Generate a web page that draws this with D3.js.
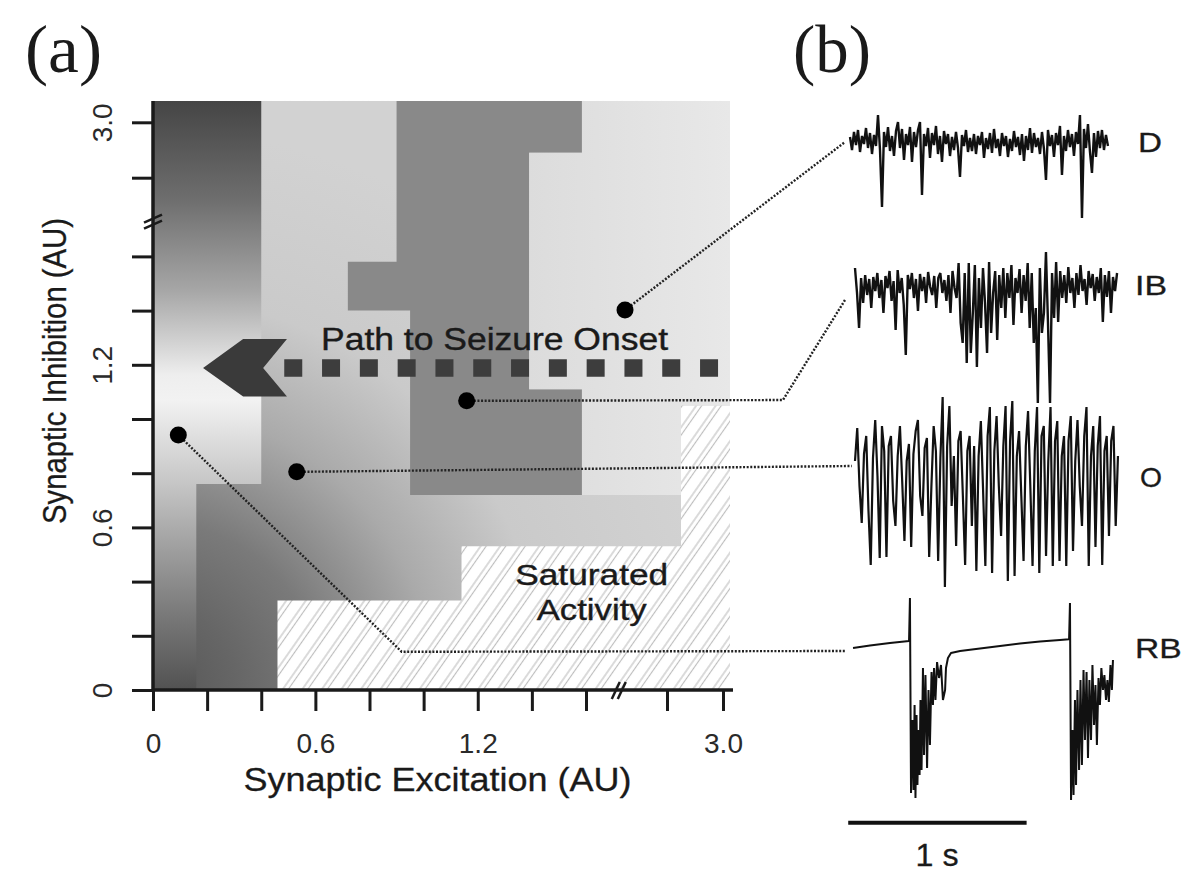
<!DOCTYPE html>
<html><head><meta charset="utf-8">
<script src="https://cdn.jsdelivr.net/npm/d3@7"></script>
<style>body{margin:0;background:#fff}svg{display:block}</style>
</head><body>
<svg id="chart" width="1200" height="884"></svg>
<script>
// ================= DATA =================
// Panel (a): parameter space (Synaptic Excitation x Synaptic Inhibition, AU)
const xTickValues = [0,0.2,0.4,0.6,0.8,1.0,1.2,1.4,1.6,2.8,3.0];
const xTickLabels = ["0","","","0.6","","","1.2","","","","3.0"];
const yTickValues = [0,0.2,0.4,0.6,0.8,1.0,1.2,1.4,1.6,2.8,3.0];
const yTickLabels = ["0","","","0.6","","","1.2","","","","3.0"];
const axisBreak = 2.13;
const xMax = 3.025, yMax = 3.077;

// region outlines in data units
const activeRegion = [[0,3.077],[3.025,3.077],[3.025,1.05],[2.85,1.05],[2.85,0.53],[1.14,0.53],[1.14,0.33],[0.46,0.33],[0.46,0],[0,0]];
const rbRegion = [[0,3.077],[0.40,3.077],[0.40,0.76],[0.16,0.76],[0.16,0],[0,0]];
const ibRegion = [[0.90,3.077],[1.585,3.077],[1.585,2.89],[1.39,2.89],[1.39,1.11],[1.585,1.11],[1.585,0.72],[0.95,0.72],[0.95,1.40],[0.72,1.40],[0.72,1.58],[0.90,1.58]];
const dRegion = [[1.585,3.077],[3.025,3.077],[3.025,1.05],[2.85,1.05],[2.85,0.72],[1.585,0.72],[1.585,1.11],[1.39,1.11],[1.39,2.89],[1.585,2.89]];

// path to seizure onset
const arrowHead = [[0.185,1.188],[0.333,1.295],[0.495,1.295],[0.407,1.188],[0.495,1.083],[0.333,1.083]];
const pathLine = [[0.485,1.188],[2.99,1.188]];

// sample points (dots) and connector knees
const traceNames = ["D","IB","O","RB"];
const dotX = [2.178, 1.159, 0.531, 0.0935];
const dotY = [1.402, 1.067, 0.805, 0.941];
const kneeX = [null, 3.214, null, 0.919];
const kneeY = [null, 1.07, null, 0.141];
const connectorEndTime = [-0.028,-0.028,0.01,-0.028];
const connectorEndValue = [0,-17,0,-11];

// Panel (b): traces (time in s, value in arbitrary units)
const traceStart = [0, 0.028, 0.028];
const traceEnd = [1.446, 1.497, 1.502];
const traceD = [5,-8,10,-3,12,-10,6,-2,14,-6, 9,-12,7,-4,27,-8,-65,10,-5,15, -9,6,-14,11,20,-6,13,-18,8,-3,
 15,-20,10,-5,12,20,-53,8,-4,14, -16,9,-3,16,-12,6,-20,11,-2,8, -14,5,-8,10,-6,-35,7,-4,12,-10,
 4,-9,8,-12,6,-3,10,-16,4,-7, 9,-11,13,-6,3,-14,9,-4,6,-15, 3,-9,11,-5,5,-13,8,-19,6,-8,
 14,-11,9,-5,4,-12,10,-7,-38,12, -4,7,-15,9,-3,16,-33,6,-9,12, -5,8,-14,10,-2,27,-76,13,-6,18,
 -10,-31,9,-15,11,-6,12,-8,7,-4];
const traceIB = [15,-10,-45,5,-20,8,-12,4,-25,6, -8,10,-15,3,-30,7,-5,12,-18,2, -47,13,-10,5,-22,-72,8,-6,10,-15,
 4,-28,9,-8,6,-20,11,-4,-12,7, -25,5,10,-10,3,-18,8,-30,12,-5, -15,20,-40,-60,10,-80,20,-70,-30,18,
 -84,5,-45,15,-20,-70,21,-50,-10,12, -57,8,-25,15,-35,10,-15,18,-42,5, -10,14,-30,8,-18,20,-45,10,-60,-25,
 -120,15,-50,-30,31,-40,-120,10,-35,21, -39,12,-15,8,-20,16,-10,5,-25,10, -12,18,-8,4,-22,12,-5,9,-18,6,
 -10,15,-39,8,-14,12,-30,6,-8,10];
const traceO = [5,38,-20,-57, 12,30,-45,-99, 8,46,-10,-92, 40,15,-91,20, 30,-35,-60,10, 40,-15,-75,5,
 22,-81,12,35, 46,-30,-50,18, 28,-91,-20,40, 15,-95,8,69, -121,20,60,-40, 10,-80,25,35,
 -30,-99,15,30, -60,20,-105,10, 45,-25,-100,30, 59,-107,15,50, -20,-70,20,60, -115,25,65,-110,
 10,35,-30,-95, 20,55,-20,-100, 15,59,-107,30, 40,-90,5,59, -100,25,45,-95, 10,30,-100,25,
 50,-85,5,46, -20,-60,30,59, -100,10,40,-81, 20,50,-99,15, 30,-70,25,40, -60,10];
const rbTime = [0.017,0.112,0.224,0.331,0.336,0.342,0.350,0.356,0.362,0.367,0.373,0.378,0.384,0.390,0.395,0.401,0.409,0.415,0.423,0.432,0.440,0.448,0.457,0.465,0.471,0.479,0.488,0.499,0.510,0.521,0.533,0.538,0.549,0.566,0.617,0.729,0.841,0.953,1.065,1.177,1.228,1.233,1.239,1.247,1.253,1.261,1.267,1.275,1.284,1.292,1.300,1.309,1.317,1.326,1.334,1.342,1.351,1.359,1.368,1.376,1.384,1.393,1.401,1.409,1.418,1.426,1.435,1.443,1.451,1.460,1.468,1.474];
const rbValue = [-8,-5.5,-3,-1,42,-153,-80,-150,-65,-158,-75,-145,-90,-135,-60,-130,-28,-115,-35,-128,-50,-105,-32,-65,-28,-60,-22,-38,-25,-60,-50,-28,-18,-13,-11,-8.5,-6,-3.5,-1.5,0,0.7,37,-160,-90,-155,-60,-145,-50,-130,-40,-125,-30,-100,-32,-118,-40,-100,-25,-85,-45,-105,-38,-65,-28,-50,-35,-60,-40,-62,-25,-50,-20];
const scaleBarStart = -0.01, scaleBarLength = 1;

// ================= DRAWING =================
const FONT = "'Liberation Sans', Arial, sans-serif";
const SERIF = "'Liberation Serif', 'Times New Roman', serif";
const INK = "#1a1a1a";
const svg = d3.select("#chart");
const x = d3.scaleLinear().domain([0,1.6,2.8,3.0]).range([153,586,667,723]);
const y = d3.scaleLinear().domain([0,1.6,2.8,3.0]).range([690,256.4,177.7,122.3]);
const poly = d3.line().x(d=>x(d[0])).y(d=>y(d[1]));

const defs = svg.append("defs");
const pat = defs.append("pattern").attr("id","hatch").attr("patternUnits","userSpaceOnUse")
  .attr("width",16).attr("height",16).attr("patternTransform","rotate(35)");
pat.append("rect").attr("width",16).attr("height",16).attr("fill","#fff");
[3,7.5].forEach(px=>pat.append("line").attr("x1",px).attr("x2",px).attr("y1",0).attr("y2",16)
  .attr("stroke","#bdbdbd").attr("stroke-width",1.1));

const rg = defs.append("radialGradient").attr("id","gActive").attr("gradientUnits","userSpaceOnUse")
  .attr("cx",x(0)).attr("cy",y(0)).attr("r",560);
[[0,"#555"],[0.15,"#666"],[0.3,"#7a7a7a"],[0.5,"#aaaaaa"],[0.7,"#cacaca"],[1,"#d2d2d2"]]
  .forEach(s=>rg.append("stop").attr("offset",s[0]).attr("stop-color",s[1]));

const lg = defs.append("linearGradient").attr("id","gRB").attr("gradientUnits","userSpaceOnUse")
  .attr("x1",0).attr("x2",0).attr("y1",y(yMax)).attr("y2",y(0));
[[0,"#454545"],[0.168,"#6e6e6e"],[0.321,"#a6a6a6"],[0.406,"#d0d0d0"],[0.465,"#eeeeee"],[0.508,"#f2f2f2"],
 [0.643,"#c8c8c8"],[0.757,"#a0a0a0"],[0.869,"#7a7a7a"],[1,"#525252"]]
  .forEach(s=>lg.append("stop").attr("offset",s[0]).attr("stop-color",s[1]));

const lgD = defs.append("linearGradient").attr("id","gD").attr("gradientUnits","userSpaceOnUse")
  .attr("x1",x(1.39)).attr("x2",x(xMax)).attr("y1",0).attr("y2",0);
lgD.append("stop").attr("offset",0).attr("stop-color","#dcdcdc");
lgD.append("stop").attr("offset",1).attr("stop-color","#e8e8e8");

// plot background: saturated (hatched)
svg.append("rect").attr("x",x(0)).attr("y",y(yMax)).attr("width",x(xMax)-x(0)).attr("height",y(0)-y(yMax))
  .attr("fill","url(#hatch)");
svg.append("path").attr("d",poly(activeRegion)+"Z").attr("fill","url(#gActive)");
svg.append("path").attr("d",poly(rbRegion)+"Z").attr("fill","url(#gRB)");
svg.append("path").attr("d",poly(ibRegion)+"Z").attr("fill","#898989");
svg.append("path").attr("d",poly(dRegion)+"Z").attr("fill","url(#gD)");

// path to seizure onset
svg.append("path").attr("d",poly(pathLine)).attr("stroke","#3d3d3d").attr("stroke-width",17.4)
  .attr("stroke-dasharray","18 19.8").attr("fill","none");
svg.append("path").attr("d",poly(arrowHead)+"Z").attr("fill","#3a3a3a");
svg.append("text").attr("x",321).attr("y",350).attr("font-family",FONT).attr("font-size",31)
  .attr("fill",INK).attr("stroke",INK).attr("stroke-width",0.4)
  .attr("textLength",347).attr("lengthAdjust","spacingAndGlyphs").text("Path to Seizure Onset");

svg.append("text").attr("x",591.7).attr("y",585).attr("text-anchor","middle").attr("font-family",FONT)
  .attr("font-size",30).attr("fill",INK).attr("stroke",INK).attr("stroke-width",0.4)
  .attr("textLength",153).attr("lengthAdjust","spacingAndGlyphs").text("Saturated");
svg.append("text").attr("x",591.7).attr("y",620).attr("text-anchor","middle").attr("font-family",FONT)
  .attr("font-size",30).attr("fill",INK).attr("stroke",INK).attr("stroke-width",0.4)
  .attr("textLength",110).attr("lengthAdjust","spacingAndGlyphs").text("Activity");

// axes
const xAxis = d3.axisBottom(x).tickValues(xTickValues).tickSize(21).tickFormat((d,i)=>xTickLabels[i]);
const gx = svg.append("g").attr("transform",`translate(0,${y(0)})`).call(xAxis);
gx.select(".domain").remove();
gx.selectAll(".tick line").attr("stroke",INK).attr("stroke-width",3);
gx.selectAll(".tick text").attr("y",63).attr("dy",0).attr("font-size",28).attr("font-family",FONT).attr("fill","#2a2a2a");

const yAxis = d3.axisLeft(y).tickValues(yTickValues).tickSize(21).tickFormat((d,i)=>yTickLabels[i]);
const gy = svg.append("g").attr("transform",`translate(${x(0)},0)`).call(yAxis);
gy.select(".domain").remove();
gy.selectAll(".tick line").attr("stroke",INK).attr("stroke-width",3);
gy.selectAll(".tick text").attr("x",0).attr("dy",0).attr("text-anchor","middle")
  .attr("transform","translate(-41,0) rotate(-90)").attr("font-size",28).attr("font-family",FONT).attr("fill","#2a2a2a");

svg.append("line").attr("x1",x(0)).attr("x2",x(xMax)+3).attr("y1",y(0)).attr("y2",y(0)).attr("stroke",INK).attr("stroke-width",3.5);
svg.append("line").attr("x1",x(0)).attr("x2",x(0)).attr("y1",y(yMax)).attr("y2",y(0)+1).attr("stroke",INK).attr("stroke-width",3.5);
// break marks
[-3,3].forEach(o=>{
  svg.append("line").attr("x1",x(axisBreak)-7+o).attr("x2",x(axisBreak)+1+o).attr("y1",y(0)+9).attr("y2",y(0)-8)
    .attr("stroke",INK).attr("stroke-width",2.5);
  svg.append("line").attr("x1",x(0)-9).attr("x2",x(0)+9).attr("y1",y(axisBreak)+4+o).attr("y2",y(axisBreak)-4+o)
    .attr("stroke",INK).attr("stroke-width",2.5);
});

// axis titles
svg.append("text").attr("x",437.5).attr("y",791).attr("text-anchor","middle").attr("font-family",FONT)
  .attr("font-size",33).attr("fill",INK).attr("stroke",INK).attr("stroke-width",0.3)
  .attr("textLength",388).attr("lengthAdjust","spacingAndGlyphs").text("Synaptic Excitation (AU)");
svg.append("text").attr("transform","translate(66,371) rotate(-90)").attr("text-anchor","middle").attr("font-family",FONT)
  .attr("font-size",33).attr("fill",INK).attr("stroke",INK).attr("stroke-width",0.3)
  .attr("textLength",306).attr("lengthAdjust","spacingAndGlyphs").text("Synaptic Inhibition (AU)");

// panel labels
svg.append("text").attr("x",25).attr("y",72).attr("font-family",SERIF).attr("font-size",68).attr("fill",INK)
  .attr("textLength",77).attr("lengthAdjust","spacingAndGlyphs").text("(a)");
svg.append("text").attr("x",793).attr("y",72).attr("font-family",SERIF).attr("font-size",68).attr("fill",INK)
  .attr("textLength",78).attr("lengthAdjust","spacingAndGlyphs").text("(b)");

// ---- panel b ----
const t = d3.scaleLinear().domain([0,1]).range([850,1028.4]);
const bases = [142,283,466,640];
const ys = bases.map(b=>d3.scaleLinear().domain([0,100]).range([b,b-100]));
const uniform = [traceD, traceIB, traceO].map((arr,k)=>arr.map((v,i)=>[traceStart[k]+i*(traceEnd[k]-traceStart[k])/(arr.length-1), v]));
const series = [...uniform, rbTime.map((tt,i)=>[tt, rbValue[i]])];
const widths = [2.4,2.4,2.2,2.0];
series.forEach((s,k)=>{
  svg.append("path").attr("d",d3.line().x(d=>t(d[0])).y(d=>ys[k](d[1]))(s))
    .attr("fill","none").attr("stroke","#111").attr("stroke-width",widths[k]).attr("stroke-linejoin","bevel");
});
const labelPos = [[1138,151.7,24],[1135,295,32],[1140,487,22],[1135,658,46.7]];
traceNames.forEach((n,k)=>{
  svg.append("text").attr("x",labelPos[k][0]).attr("y",labelPos[k][1]).attr("font-family",FONT).attr("font-size",28)
    .attr("fill",INK).attr("stroke",INK).attr("stroke-width",0.3)
    .attr("textLength",labelPos[k][2]).attr("lengthAdjust","spacingAndGlyphs").text(n);
});
// scale bar
svg.append("line").attr("x1",t(scaleBarStart)).attr("x2",t(scaleBarStart+scaleBarLength)).attr("y1",822.7).attr("y2",822.7)
  .attr("stroke","#111").attr("stroke-width",4);
svg.append("text").attr("x",937).attr("y",866).attr("text-anchor","middle").attr("font-family",FONT).attr("font-size",32)
  .attr("fill",INK).attr("stroke",INK).attr("stroke-width",0.3)
  .attr("textLength",43).attr("lengthAdjust","spacingAndGlyphs").text("1 s");

// connectors and dots
traceNames.forEach((n,k)=>{
  const pts = [[x(dotX[k]), y(dotY[k])]];
  if (kneeX[k] !== null) pts.push([x(kneeX[k]), y(kneeY[k])]);
  pts.push([t(connectorEndTime[k]), ys[k](connectorEndValue[k])]);
  svg.append("path").attr("d",d3.line()(pts)).attr("fill","none").attr("stroke","#222")
    .attr("stroke-width",2.4).attr("stroke-dasharray","2 1.6");
  svg.append("circle").attr("cx",x(dotX[k])).attr("cy",y(dotY[k])).attr("r",8.5).attr("fill","#000");
});
</script>
</body></html>
